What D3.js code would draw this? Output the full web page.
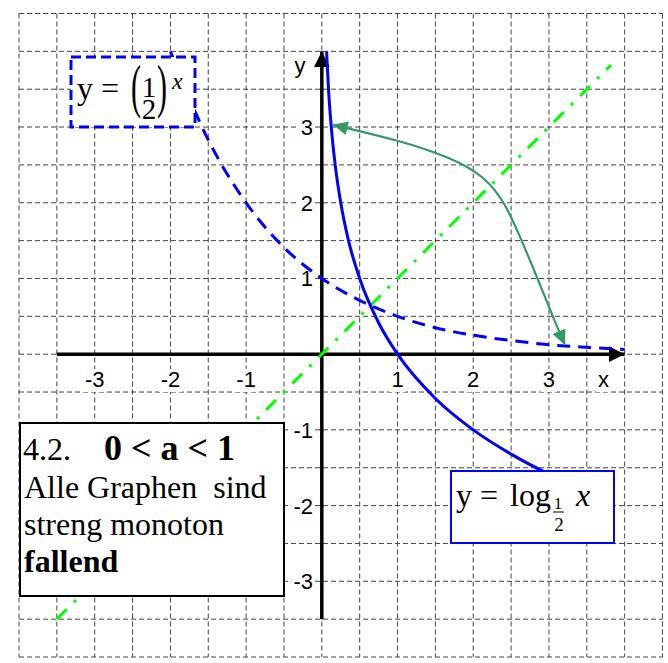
<!DOCTYPE html>
<html>
<head>
<meta charset="utf-8">
<script src="https://d3js.org/d3.v7.min.js"></script>
<style>
  body { margin: 0; background: white; }
  svg { display: block; }
  .serif { font-family: "Liberation Serif", "Times New Roman", serif; fill: black; }
  .sans { font-family: "Liberation Sans", Arial, sans-serif; font-size: 22px; fill: black; }
</style>
</head>
<body>
<script>
// *** data
var gridTicks = [-4, -3.5, -3, -2.5, -2, -1.5, -1, -0.5, 0, 0.5, 1, 1.5, 2, 2.5, 3, 3.5, 4, 4.5];
var xTickLabels = [-3, -2, -1, 1, 2, 3];
var yTickLabels = [3, 2, 1, -1, -2, -3];
var xAxisRange = [-3.5, 4];
var yAxisRange = [-3.5, 4];

// y = (1/2)^x
var expX = [-2, -1.5, -1, -0.5, 0, 0.5, 1, 1.5, 2, 2.5, 3, 3.5, 4];
var expY = [4, 2.83, 2, 1.41, 1, 0.71, 0.5, 0.35, 0.25, 0.18, 0.125, 0.09, 0.0625];

// y = log_1/2 x
var logX = [0.0625, 0.09, 0.125, 0.18, 0.25, 0.35, 0.5, 0.75, 1, 1.5, 2, 2.5, 3, 3.5, 3.85];
var logY = [4, 3.47, 3, 2.47, 2, 1.51, 1, 0.415, 0, -0.585, -1, -1.32, -1.585, -1.81, -1.945];

// y = x (mirror line)
var diagX = [-3.5, 3.82];
var diagY = [-3.5, 3.82];

// green curved double arrow
var arcX = [0.145, 1.0, 1.7, 2.15, 2.42, 2.62, 2.85, 3.05, 3.21];
var arcY = [3.03, 2.83, 2.6, 2.35, 2.0, 1.55, 1.0, 0.5, 0.12];

var W = 668, H = 663;
var svg = d3.select("body").append("svg").attr("width", W).attr("height", H);

var x = d3.scaleLinear().domain([-4, 4.5]).range([19, 662.5]);
var y = d3.scaleLinear().domain([-4, 4.5]).range([657, 13.5]);

var defs = svg.append("defs");
function marker(id, color, len, half) {
  defs.append("marker")
    .attr("id", id)
    .attr("viewBox", "0 0 " + len + " " + (2 * half))
    .attr("refX", len).attr("refY", half)
    .attr("markerUnits", "userSpaceOnUse")
    .attr("markerWidth", len).attr("markerHeight", 2 * half)
    .attr("orient", "auto-start-reverse")
    .append("path")
    .attr("d", "M0,0L" + len + "," + half + "L0," + (2 * half) + "Z")
    .attr("fill", color);
}
marker("arrBlack", "black", 16, 8);
marker("arrGreen", "#339966", 15, 7);

// *** grid
var grid = svg.append("g").attr("stroke", "#444").attr("stroke-width", 1).attr("stroke-dasharray", "5,3");
grid.selectAll("line.v").data(gridTicks).enter().append("line")
  .attr("x1", function(d){ return x(d); }).attr("x2", function(d){ return x(d); })
  .attr("y1", y(4.5)).attr("y2", y(-4));
grid.selectAll("line.h").data(gridTicks).enter().append("line")
  .attr("y1", function(d){ return y(d); }).attr("y2", function(d){ return y(d); })
  .attr("x1", x(-4)).attr("x2", x(4.5));

// *** tick labels with white background
function label(tx, ty, str, anchor) {
  var t = svg.append("text").attr("class", "sans")
    .attr("x", tx).attr("y", ty).attr("text-anchor", anchor).text(str);
  var b = t.node().getBBox();
  svg.insert("rect", function(){ return t.node(); })
    .attr("x", b.x - 2).attr("y", b.y + 2).attr("width", b.width + 4).attr("height", b.height - 2)
    .attr("fill", "white");
}
xTickLabels.forEach(function(d){ label(x(d), 387, d, "middle"); });
label(x(3.72), 387, "x", "middle");
yTickLabels.forEach(function(d){ label(313, y(d) + 8, d, "end"); });
label(300, 73, "y", "middle");

// *** axes
svg.append("line")
  .attr("x1", x(xAxisRange[0])).attr("x2", x(xAxisRange[1]))
  .attr("y1", y(0)).attr("y2", y(0))
  .attr("stroke", "black").attr("stroke-width", 3.5)
  .attr("marker-end", "url(#arrBlack)");
svg.append("line")
  .attr("x1", x(0)).attr("x2", x(0))
  .attr("y1", y(yAxisRange[0])).attr("y2", y(yAxisRange[1]))
  .attr("stroke", "black").attr("stroke-width", 3.5)
  .attr("marker-end", "url(#arrBlack)");

// *** y = x
svg.append("path")
  .attr("d", d3.line()(diagX.map(function(d, i){ return [x(d), y(diagY[i])]; })))
  .attr("fill", "none").attr("stroke", "#00ff00").attr("stroke-width", 3)
  .attr("stroke-dasharray", "14,10,3,10");

// *** curves
var line = d3.line().curve(d3.curveMonotoneX);
svg.append("path")
  .attr("d", line(expX.map(function(d, i){ return [x(d), y(expY[i])]; })))
  .attr("fill", "none").attr("stroke", "blue").attr("stroke-width", 3)
  .attr("stroke-dasharray", "13,8");
svg.append("path")
  .attr("d", line(logX.map(function(d, i){ return [x(d), y(logY[i])]; })))
  .attr("fill", "none").attr("stroke", "blue").attr("stroke-width", 3);

// *** green arrow
svg.append("path")
  .attr("d", d3.line().curve(d3.curveBasis)(arcX.map(function(d, i){ return [x(d), y(arcY[i])]; })))
  .attr("fill", "none").attr("stroke", "#339966").attr("stroke-width", 2.2)
  .attr("marker-start", "url(#arrGreen)").attr("marker-end", "url(#arrGreen)");

// *** box y = (1/2)^x
var eb = svg.append("g");
eb.append("rect").attr("x", 71).attr("y", 57).attr("width", 124).attr("height", 70)
  .attr("fill", "white").attr("stroke", "blue").attr("stroke-width", 3).attr("stroke-dasharray", "10,5");
eb.append("text").attr("class", "serif").attr("x", 77).attr("y", 99).style("font-size", "32px").text("y =");
eb.append("text").attr("class", "serif").attr("transform", "translate(131,106) scale(1,1.95)").style("font-size", "30px").text("(");
eb.append("text").attr("class", "serif").attr("transform", "translate(157,106) scale(1,1.95)").style("font-size", "30px").text(")");
eb.append("text").attr("class", "serif").attr("x", 149).attr("y", 97).attr("text-anchor", "middle").style("font-size", "29px").text("1");
eb.append("text").attr("class", "serif").attr("x", 149).attr("y", 119).attr("text-anchor", "middle").style("font-size", "29px").text("2");
eb.append("text").attr("class", "serif").attr("x", 172).attr("y", 89).style("font-size", "24px").style("font-style", "italic").text("x");

// *** box y = log_1/2 x
var lb = svg.append("g");
lb.append("rect").attr("x", 451).attr("y", 471).attr("width", 163).attr("height", 72)
  .attr("fill", "white").attr("stroke", "blue").attr("stroke-width", 2);
lb.append("text").attr("class", "serif").attr("x", 456).attr("y", 506).style("font-size", "32px").text("y =");
lb.append("text").attr("class", "serif").attr("x", 510).attr("y", 506).style("font-size", "32px").text("log");
lb.append("text").attr("class", "serif").attr("x", 558).attr("y", 509).attr("text-anchor", "middle").style("font-size", "17px").text("1");
lb.append("line").attr("x1", 553).attr("x2", 564).attr("y1", 512).attr("y2", 512).attr("stroke", "black").attr("stroke-width", 1);
lb.append("text").attr("class", "serif").attr("x", 559).attr("y", 531).attr("text-anchor", "middle").style("font-size", "19px").text("2");
lb.append("text").attr("class", "serif").attr("x", 576).attr("y", 506).style("font-size", "32px").style("font-style", "italic").text("x");

// *** info box
var ib = svg.append("g");
ib.append("rect").attr("x", 20).attr("y", 423).attr("width", 264).attr("height", 173)
  .attr("fill", "white").attr("stroke", "black").attr("stroke-width", 2);
ib.append("text").attr("class", "serif").attr("x", 23).attr("y", 460).style("font-size", "32px").text("4.2.");
ib.append("text").attr("class", "serif").attr("x", 104).attr("y", 460).style("font-size", "36px").style("font-weight", "bold").text("0 < a < 1");
ib.append("text").attr("class", "serif").attr("x", 24).attr("y", 498).style("font-size", "32px").style("white-space", "pre").text("Alle Graphen  sind");
ib.append("text").attr("class", "serif").attr("x", 24).attr("y", 535).style("font-size", "32px").text("streng monoton");
ib.append("text").attr("class", "serif").attr("x", 24).attr("y", 572).style("font-size", "32px").style("font-weight", "bold").text("fallend");
</script>
</body>
</html>
